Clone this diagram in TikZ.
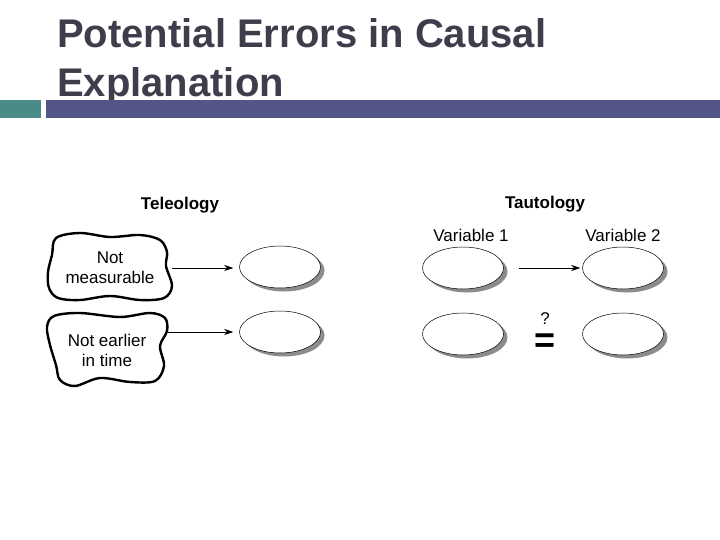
\documentclass[tikz,border=0pt]{standalone}
\usepackage{fontspec}
\setmainfont{Liberation Sans}
\usetikzlibrary{arrows.meta,shapes.geometric,shadows}
\definecolor{titlegray}{HTML}{3D3D4C}
\definecolor{barteal}{HTML}{4A8B87}
\definecolor{barpurple}{HTML}{535488}
\begin{document}
\begin{tikzpicture}[x=1pt,y=-1pt]
\tikzstyle{every node}+=[inner sep=0pt]
\tikzstyle{oval}=[ellipse, draw=black, line width=0.5pt, fill=white, minimum width=81pt, minimum height=42pt, drop shadow={shadow xshift=4pt, shadow yshift=-3.5pt, fill=black!45, opacity=1}]
\tikzstyle{lbl}=[font=\fontsize{17}{20}\selectfont, align=center]
\tikzstyle{head}=[font=\fontsize{17}{20}\selectfont\bfseries]
\tikzstyle{blob}=[line width=2.4pt, line join=round]
\tikzstyle{link}=[line width=0.7pt, -{Stealth[length=9pt,width=6pt]}]
\useasboundingbox (0,0) rectangle (720,540);
% title and bar
\node [anchor=base west, align=left, text=titlegray, font=\fontsize{40}{49}\selectfont\bfseries] (title) at (57,97) {Potential Errors in Causal\\Explanation};
\fill [barteal] (0,100) rectangle (41,118);
\fill [barpurple] (46,100) rectangle (720,118);
% teleology
\node [head, anchor=base] (teleo) at (180,210) {Teleology};
\draw [blob] plot [smooth cycle, tension=0.55] coordinates {(56,238) (80,233) (110,237) (140,235) (160,240) (167,252) (166,266) (172,286) (164,298) (140,300) (110,296) (80,300) (58,298) (49,288) (48,272) (52,255)};
\draw [blob] plot [smooth cycle, tension=0.55] coordinates {(54,316) (80,313) (120,317) (150,313) (165,318) (167,331) (160,346) (164,366) (155,381) (130,382) (100,378) (75,386) (60,380) (56,365) (50,345) (47,327)};
\node [lbl, minimum width=124pt] (notmeas) at (110,268) {Not\\measurable};
\node [lbl, minimum width=122pt] (notearly) at (107,350) {Not earlier\\in time};
\node [oval] (effA) at (280,267) {};
\node [oval] (effB) at (280,332) {};
\draw [link, shorten >=6pt] (notmeas.east) -- (notmeas.east -| effA.west);
\draw [link, shorten >=6pt] (notearly.east |- effB.west) -- (effB.west);
% tautology
\node [head, anchor=base] (tauto) at (545,209) {Tautology};
\node [oval] (varA) at (463,268) {};
\node [oval] (varB) at (623,268) {};
\node [oval] (varC) at (463,334) {};
\node [oval] (varD) at (623,334) {};
\node [lbl, anchor=base] (nameA) at (471,241) {Variable 1};
\node [lbl, anchor=base] (nameB) at (623,241) {Variable 2};
\draw [link, shorten <=15pt, shorten >=2pt] (varA.east) -- (varB.west);
\node [font=\fontsize{17}{17}\selectfont, anchor=base] (query) at (545,324) {?};
\node [font=\fontsize{36}{36}\selectfont\bfseries, anchor=base, text height=15pt, text depth=0pt] (same) at (545,352) {=};
\end{tikzpicture}
\end{document}
